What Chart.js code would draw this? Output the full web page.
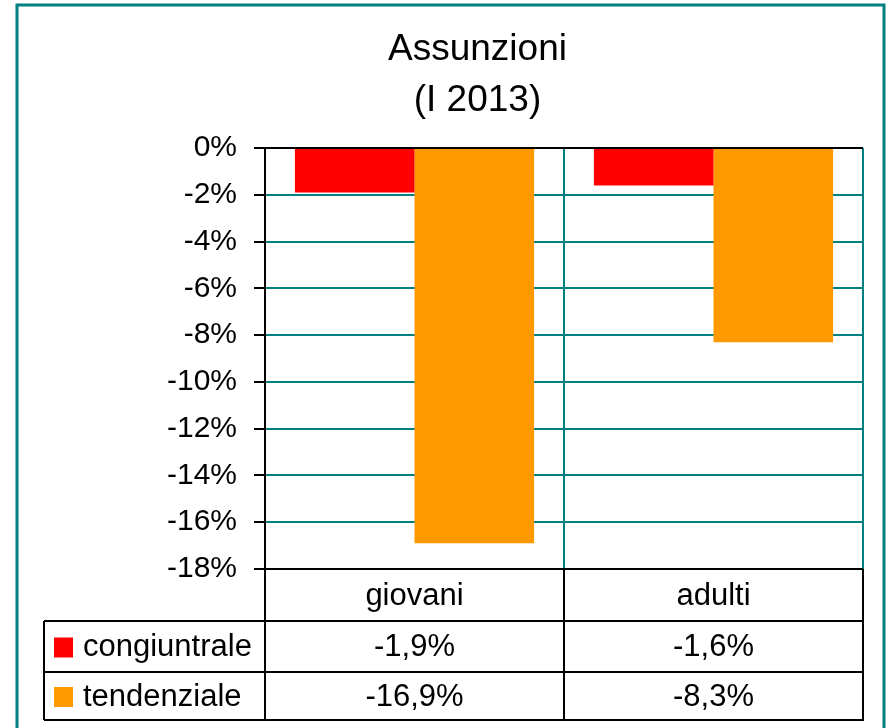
<!DOCTYPE html>
<html>
<head>
<meta charset="utf-8">
<title>Assunzioni (I 2013)</title>
<script src="https://cdn.jsdelivr.net/npm/chart.js@4.4.0/dist/chart.umd.min.js"></script>
<style>
  body { margin: 0; background: #fff; }
  canvas { display: block; }
</style>
</head>
<body>
<canvas id="chart" width="887" height="728"></canvas>
<script>
const categories = ['giovani', 'adulti'];
const seriesNames = ['congiuntrale', 'tendenziale'];
const congiuntrale = [-1.9, -1.6];
const tendenziale = [-16.9, -8.3];
const yMin = -18;
const yMax = 0;
const yStep = 2;

const colors = ['#ff0000', '#ff9900'];
const teal = '#008080';
const FONT = "'Liberation Sans', Arial, sans-serif";

function fmt(v) {
  return v.toFixed(1).replace('.', ',') + '%';
}

// table under the plot: category row + one row per series with legend key
const dataTable = {
  id: 'dataTable',
  afterDraw(chart) {
    const ctx = chart.ctx;
    const xs = chart.scales.x;
    const area = chart.chartArea;
    const half = (xs.getPixelForValue(1) - xs.getPixelForValue(0)) / 2;
    const left = 44;
    const rows = [area.bottom, 621, 672, 720];
    const series = [congiuntrale, tendenziale];

    ctx.save();
    ctx.strokeStyle = '#000';
    ctx.lineWidth = 2;
    ctx.beginPath();
    // verticals
    ctx.moveTo(area.left, rows[0]); ctx.lineTo(area.left, rows[3]);
    categories.forEach((c, i) => {
      const r = xs.getPixelForValue(i) + half;
      ctx.moveTo(r, rows[0]); ctx.lineTo(r, rows[3]);
    });
    ctx.moveTo(left, rows[1]); ctx.lineTo(left, rows[3]);
    // horizontals
    for (let k = 1; k < rows.length; k++) {
      ctx.moveTo(left, rows[k]); ctx.lineTo(area.right + 1, rows[k]);
    }
    ctx.stroke();

    ctx.fillStyle = '#000';
    ctx.font = '31px ' + FONT;
    ctx.textBaseline = 'middle';
    ctx.textAlign = 'center';
    categories.forEach((c, i) => {
      ctx.fillText(c, xs.getPixelForValue(i), (rows[0] + rows[1]) / 2 + 1);
    });

    series.forEach((vals, s) => {
      const cy = (rows[s + 1] + rows[s + 2]) / 2 + 1;
      ctx.fillStyle = colors[s];
      ctx.fillRect(54, cy - 10, 19, 20);
      ctx.fillStyle = '#000';
      ctx.textAlign = 'left';
      ctx.fillText(seriesNames[s], 83, cy);
      ctx.textAlign = 'center';
      vals.forEach((v, i) => ctx.fillText(fmt(v), xs.getPixelForValue(i), cy));
    });

    // outer frame
    ctx.strokeStyle = teal;
    ctx.lineWidth = 3;
    ctx.strokeRect(17, 5, 867, 740);
    ctx.restore();
  }
};

new Chart(document.getElementById('chart'), {
  type: 'bar',
  data: {
    labels: categories,
    datasets: [
      { label: seriesNames[0], data: congiuntrale, backgroundColor: colors[0] },
      { label: seriesNames[1], data: tendenziale, backgroundColor: colors[1] }
    ]
  },
  options: {
    responsive: false,
    animation: false,
    layout: { padding: { left: 92, right: 24, top: 0, bottom: 159 } },
    datasets: { bar: { categoryPercentage: 0.8, barPercentage: 1.0 } },
    plugins: {
      legend: { display: false },
      tooltip: { enabled: false },
      title: {
        display: true,
        text: ['Assunzioni', '(I 2013)'],
        color: '#000',
        font: { family: FONT, size: 37, weight: 'normal', lineHeight: '51px' },
        padding: { top: 24, bottom: 22 }
      }
    },
    scales: {
      x: {
        offset: true,
        afterFit: s => { s.height = 0; },
        ticks: { display: false },
        grid: {
          offset: true,
          drawTicks: false,
          lineWidth: 2,
          color: c => c.index === 0 ? '#000' : teal
        },
        border: { display: false }
      },
      y: {
        min: yMin,
        max: yMax,
        afterFit: s => { s.width = 173; },
        ticks: {
          stepSize: yStep,
          color: '#000',
          padding: 17,
          font: { family: FONT, size: 30 },
          callback: v => v + '%'
        },
        grid: {
          lineWidth: 2,
          tickLength: 11,
          tickColor: '#000',
          color: c => (c.tick && (c.tick.value === 0 || c.tick.value === yMin)) ? '#000' : teal
        },
        border: { display: true, color: '#000', width: 2 }
      }
    }
  },
  plugins: [dataTable]
});
</script>
</body>
</html>
